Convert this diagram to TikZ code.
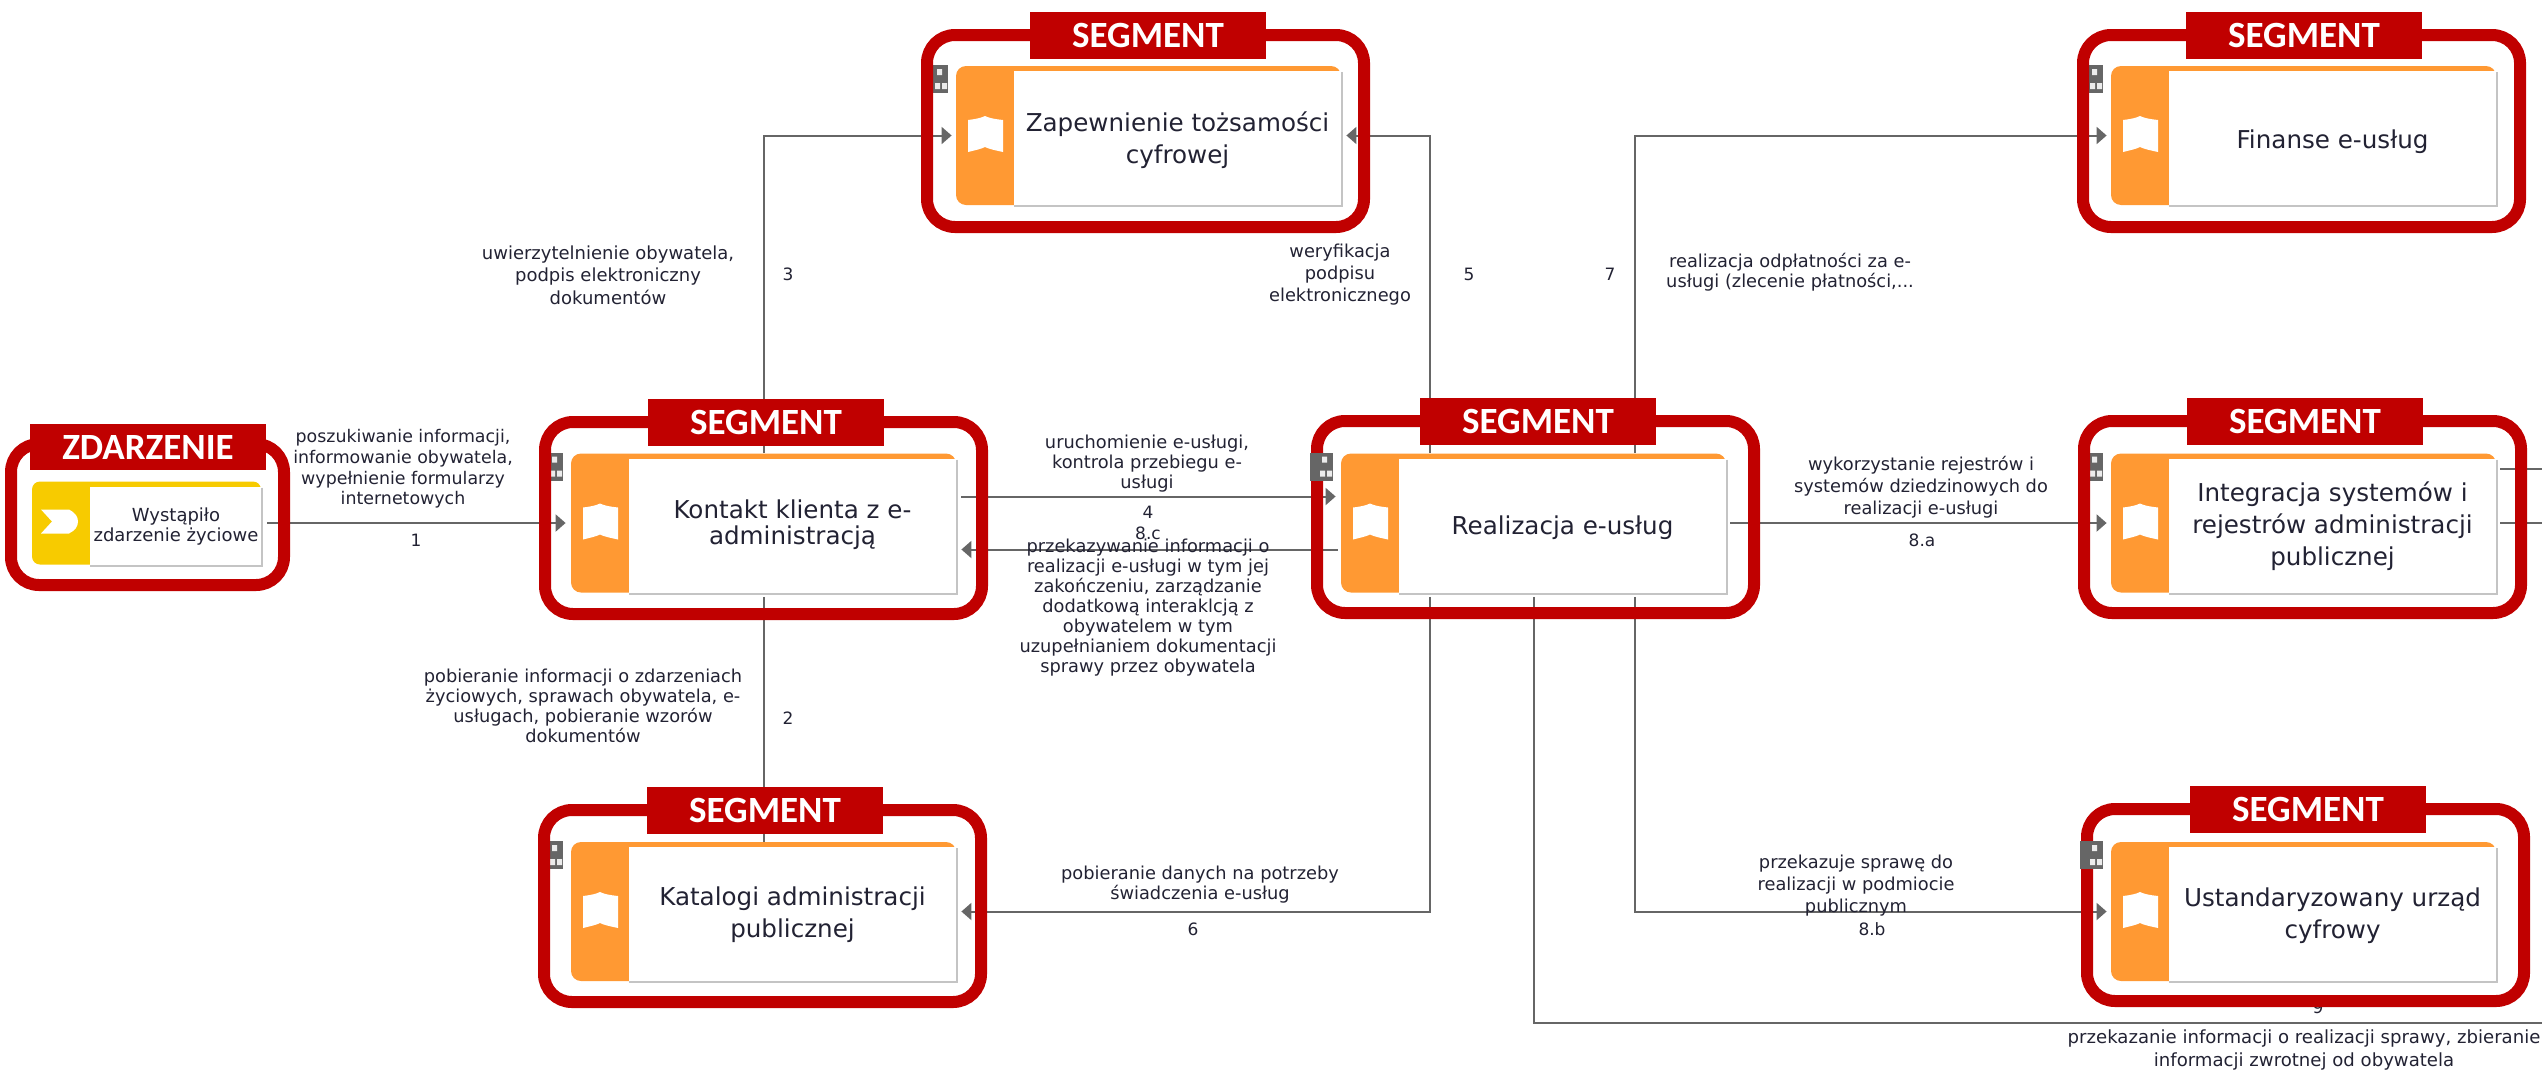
\documentclass[tikz,border=0pt]{standalone}
\usepackage{fontspec}
\setmainfont{DejaVu Sans}
\newfontfamily\tagfont{Carlito}[BoldFont={Carlito Bold}]
\usetikzlibrary{arrows.meta}
\definecolor{framered}{HTML}{C00000}
\definecolor{barorange}{HTML}{FF9933}
\definecolor{baryellow}{HTML}{F7CB00}
\definecolor{linegray}{HTML}{666666}
\definecolor{inkdark}{HTML}{222233}
\definecolor{edgegray}{HTML}{C4C4C4}
\tikzset{
  conn/.style={draw=linegray,line width=1pt},
  arr/.style={conn,-{Triangle[length=5pt,width=8.5pt]}},
  cardanchor/.style={inner sep=0pt,minimum width=192.5pt,minimum height=69.5pt},
  cardtext/.style={align=center,text=inkdark,font=\fontsize{12.3}{16}\selectfont,inner sep=0pt},
  lbl/.style={align=center,text=inkdark,font=\fontsize{8.9}{10}\selectfont,inner sep=0pt},
  num/.style={text=inkdark,font=\fontsize{8.5}{10}\selectfont,inner sep=0pt},
  frame/.style={draw=framered,line width=6pt,rounded corners=14pt},
  tagbox/.style={fill=framered,text=white,inner sep=0pt,minimum width=118pt,minimum height=23.4pt,font=\tagfont\bfseries\fontsize{18.5}{20}\selectfont},
}
\newcommand\procard[5]{%
\begin{scope}[shift={(#2,#3)}]
  \fill[barorange,rounded corners=5pt] (0,0) rectangle (385,139);
  \fill[white] (58,5) rectangle (385,139);
  \draw[edgegray,line width=1pt] (386,6) -- (386,140) -- (58,140);
  \node[cardanchor] (#1) at (192.5,69.5) {};
  \node[cardtext] (#1-text) at (221.5,#5) {#4};
  \fill[white] (12,54) .. controls (20,53) and (25,52) .. (29,50) .. controls (33,52) and (38,53) .. (47,54) -- (47,86) .. controls (38,84) and (33,83) .. (29,81) .. controls (25,83) and (20,84) .. (12,86) -- cycle;
\end{scope}}
\newcommand\cardicon[2]{%
\begin{scope}[shift={(#1,#2)}]
  \fill[linegray] (-31,-1) rectangle (-8,27);
  \fill[white!85!gray] (-19,3) rectangle (-14,9) (-21,17) rectangle (-16,23) (-14,17) rectangle (-9,23);
\end{scope}}
\newcommand\segframe[3]{%
  \draw[frame] (#2+6,#3+6) rectangle (#2+443,#3+198);
  \node[tagbox] (#1) at (#2+227,#3+6.5) {SEGMENT};
}
\begin{document}
\begin{tikzpicture}[x=0.5pt,y=-0.5pt]
\useasboundingbox (0,0) rectangle (2542,1072);
\node[num] (n9) at (2318,1007) {9};
% cards
\begin{scope}[shift={(32,481.5)}]
  \fill[baryellow,rounded corners=4pt] (0,0) rectangle (229,83);
  \fill[white] (58,5) rectangle (229,83);
  \draw[edgegray,line width=1pt] (230,6) -- (230,84) -- (58,84);
  \node[inner sep=0pt,minimum width=114.5pt,minimum height=41.5pt] (zd) at (114.5,41.5) {};
  \node[align=center,text=inkdark,inner sep=0pt,font=\fontsize{9}{10}\selectfont] (zd-text) at (144,45.5) {Wystąpiło\\zdarzenie życiowe};
  \fill[white] (9,28) -- (37,28) .. controls (43,31) and (46,35) .. (46,40) .. controls (46,45) and (43,49) .. (37,52) -- (9,52) -- (20,40) -- cycle;
\end{scope}
\procard{kontakt}{571}{453.5}{Kontakt klienta z e-\\[-3pt]administracją}{71}
\procard{zap}{956}{66}{Zapewnienie tożsamości\\cyfrowej}{74}
\procard{real}{1341}{453.5}{Realizacja e-usług}{74}
\procard{fin}{2111}{66}{Finanse e-usług}{76}
\procard{integ}{2111}{453.5}{Integracja systemów i\\rejestrów administracji\\publicznej}{73}
\procard{kat}{571}{842}{Katalogi administracji\\publicznej}{73}
\procard{ust}{2111}{842}{Ustandaryzowany urząd\\cyfrowy}{74}
\cardicon{571}{453.5}
\cardicon{956}{66}
\cardicon{2111}{66}
\cardicon{2111}{453.5}
\cardicon{571}{842}
\coordinate (edgeA) at (2542,469);
\coordinate (edgeB) at (2542,522.5);
\coordinate (edgeC) at (2542,1023);
% connectors
\draw[arr,shorten <=3pt,shorten >=2.5pt] (zd.east) -- (kontakt.west);
\draw[arr,shorten >=2pt] (kontakt.north) |- (zap.west);
\draw[conn,shorten <=2pt] (kontakt.south) -- (kat.north);
\draw[arr,shorten <=2.5pt,shorten >=2.5pt] ([yshift=13.25pt]kontakt.east) -- ([yshift=13.25pt]real.west);
\draw[arr,shorten <=1.5pt,shorten >=2.5pt] ([yshift=-13.25pt]real.west) -- ([yshift=-13.25pt]kontakt.east);
\draw[arr,shorten >=2.5pt] ([xshift=-51.75pt]real.north) |- (zap.east);
\draw[arr,shorten <=2pt,shorten >=2.5pt] ([xshift=-51.75pt]real.south) |- (kat.east);
\draw[arr,shorten >=2pt] ([xshift=50.75pt]real.north) |- (fin.west);
\draw[arr,shorten <=2pt,shorten >=2pt] (real.east) -- (integ.west);
\draw[arr,shorten <=2pt,shorten >=2pt] ([xshift=50.75pt]real.south) |- (ust.west);
\draw[conn,shorten <=2pt] (real.south) |- (edgeC);
\draw[conn,shorten <=2pt] (integ.east |- edgeA) -- (edgeA);
\draw[conn,shorten <=2pt] (integ.east |- edgeB) -- (edgeB);
% frames
\draw[frame] (11,444) rectangle (284,585);
\node[tagbox] (tagZ) at (148,447) {ZDARZENIE};
\segframe{tagK}{539}{416}
\segframe{tagP}{921}{29}
\segframe{tagR}{1311}{415}
\segframe{tagF}{2077}{29}
\segframe{tagI}{2078}{415}
\segframe{tagC}{538}{804}
\segframe{tagU}{2081}{803}
\cardicon{1341}{453.5}
\cardicon{2111}{842}
% labels
\node[lbl,font=\fontsize{8.7}{10.3}\selectfont] (l1) at (403,469) {poszukiwanie informacji,\\informowanie obywatela,\\wypełnienie formularzy\\internetowych};
\node[num] (n1) at (416,540) {1};
\node[lbl] (l2) at (583,706) {pobieranie informacji o zdarzeniach\\życiowych, sprawach obywatela, e-\\usługach, pobieranie wzorów\\dokumentów};
\node[num] (n2) at (788,718) {2};
\node[lbl,font=\fontsize{9}{11.2}\selectfont] (l3) at (608,275) {uwierzytelnienie obywatela,\\podpis elektroniczny\\dokumentów};
\node[num] (n3) at (788,274) {3};
\node[lbl] (l4) at (1147,464) {uruchomienie e-usługi,\\kontrola przebiegu e-\\usługi};
\node[num] (n4) at (1148,512) {4};
\node[num] (n8c) at (1148,533) {8.c};
\node[lbl] (l8c) at (1148,608) {przekazywanie informacji o\\realizacji e-usługi w tym jej\\zakończeniu, zarządzanie\\dodatkową interaklcją z\\obywatelem w tym\\uzupełnianiem dokumentacji\\sprawy przez obywatela};
\node[lbl,font=\fontsize{8.9}{11}\selectfont] (l5) at (1340,275) {weryfikacja\\podpisu\\elektronicznego};
\node[num] (n5) at (1469,274) {5};
\node[lbl] (l7) at (1790,272) {realizacja odpłatności za e-\\usługi (zlecenie płatności,...};
\node[num] (n7) at (1610,274) {7};
\node[lbl,font=\fontsize{8.9}{11}\selectfont] (l8a) at (1921,487) {wykorzystanie rejestrów i\\systemów dziedzinowych do\\realizacji e-usługi};
\node[num] (n8a) at (1922,540) {8.a};
\node[lbl] (l6) at (1200,885) {pobieranie danych na potrzeby\\świadczenia e-usług};
\node[num] (n6) at (1193,929) {6};
\node[lbl,font=\fontsize{8.9}{11}\selectfont] (l8b) at (1856,886) {przekazuje sprawę do\\realizacji w podmiocie\\publicznym};
\node[num] (n8b) at (1872,929) {8.b};
\node[lbl,font=\fontsize{9.05}{11.8}\selectfont] (l9) at (2304,1050) {przekazanie informacji o realizacji sprawy, zbieranie\\informacji zwrotnej od obywatela};
\end{tikzpicture}
\end{document}
